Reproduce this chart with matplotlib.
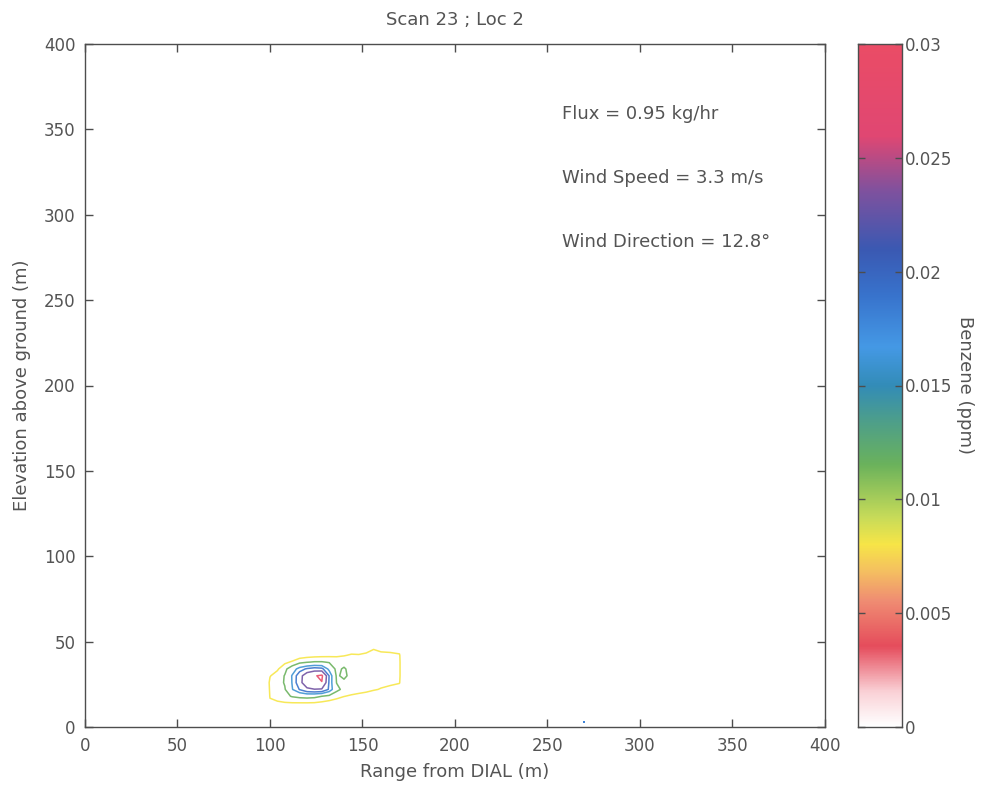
import numpy as np
import matplotlib
matplotlib.use("Agg")
import matplotlib.pyplot as plt
from matplotlib.colors import LinearSegmentedColormap, Normalize

# ---- measured benzene concentration (ppm) on the scan plane ----
range_m = [95, 100, 104, 108, 112, 116, 120, 124, 128, 132, 136, 140,
           144, 148, 152, 156, 160, 165, 170, 175]
elev_m = [10, 14, 18, 22, 26, 30, 34, 38, 42, 46, 50]

conc_y10 = [0, .003, .004, .004, .004, .004, .004, .004, .004, .004, .004, .004,
            .003, .003, .003, .003, .002, .002, .002, 0]
conc_y14 = [0, .0075, .0076, .0077, .0078, .0078, .0078, .0077, .0072, .0066, .006, .0055,
            .005, .0045, .004, .004, .0035, .003, .003, 0]
conc_y18 = [0, .0082, .009, .0105, .0118, .0125, .0128, .0125, .0115, .0105, .0092, .0081,
            .0075, .007, .0065, .006, .0055, .005, .0045, 0]
conc_y22 = [0, .0085, .0097, .0112, .0158, .0192, .022, .0228, .0225, .0185, .0125, .0105,
            .0098, .0094, .009, .0083, .0078, .0072, .0065, 0]
conc_y26 = [0, .0088, .0100, .0118, .0162, .0215, .0262, .0282, .0288, .0185, .0114, .0108,
            .0100, .0096, .0093, .0090, .0088, .0086, .0082, 0]
conc_y30 = [0, .0078, .0095, .0117, .0163, .0212, .0260, .0285, .0300, .0188, .0110, .0122,
            .0105, .0098, .0095, .0092, .0090, .0088, .0085, 0]
conc_y34 = [0, .0055, .0075, .0105, .0140, .0175, .0195, .0205, .0200, .0150, .0105, .0120,
            .0100, .0095, .0093, .0092, .0090, .0088, .0085, 0]
conc_y38 = [0, .003, .005, .0072, .0085, .0105, .0113, .0118, .0118, .0112, .0098, .0100,
            .0092, .0090, .0088, .0090, .0090, .0088, .0085, 0]
conc_y42 = [0, .001, .002, .0035, .005, .006, .0065, .0068, .0070, .0072, .0075, .0078,
            .0083, .0082, .0085, .0092, .0088, .0087, .0083, 0]
conc_y46 = [0, 0, .001, .002, .003, .0035, .004, .0045, .005, .005, .0055, .006,
            .0065, .0065, .0070, .0078, .0072, .0070, .0068, 0]
conc_y50 = [0] * 20

contour_levels = [0.008, 0.0115, 0.016, 0.019, 0.023, 0.029]

# isolated single-cell reading near the ground
stray_range = [270]
stray_elev = [3]
stray_value = [0.018]

title_text = "Scan 23 ; Loc 2"
notes = ["Flux = 0.95 kg/hr", "Wind Speed = 3.3 m/s", "Wind Direction = 12.8\u00b0"]
note_elev = [359, 321.5, 284]
note_range = 258

axis_ticks = [0, 50, 100, 150, 200, 250, 300, 350, 400]
cbar_ticks = [0, 0.005, 0.01, 0.015, 0.02, 0.025, 0.03]
cbar_ticklabels = ["0", "0.005", "0.01", "0.015", "0.02", "0.025", "0.03"]

# ---- colour map of the benzene scale ----
cmap_stops = [
    (0.0000, (1.00, 1.00, 1.00)),
    (0.0015, (0.98, 0.82, 0.84)),
    (0.0035, (0.90, 0.30, 0.36)),
    (0.0055, (0.94, 0.55, 0.45)),
    (0.0068, (0.96, 0.75, 0.38)),
    (0.0080, (0.97, 0.90, 0.28)),
    (0.0092, (0.78, 0.86, 0.35)),
    (0.0115, (0.42, 0.70, 0.36)),
    (0.0135, (0.30, 0.62, 0.55)),
    (0.0150, (0.20, 0.55, 0.72)),
    (0.0167, (0.27, 0.60, 0.90)),
    (0.0190, (0.22, 0.45, 0.80)),
    (0.0210, (0.23, 0.35, 0.70)),
    (0.0236, (0.50, 0.32, 0.62)),
    (0.0260, (0.88, 0.28, 0.45)),
    (0.0300, (0.92, 0.30, 0.40)),
]
vmax = 0.03
benzene_cmap = LinearSegmentedColormap.from_list(
    "benzene", [(v / vmax, c) for v, c in cmap_stops], N=256)
norm = Normalize(vmin=0, vmax=vmax)

text_color = (0.33, 0.33, 0.33)
frame_color = (0.30, 0.30, 0.30)
plt.rcParams["font.family"] = ["DejaVu Sans"]
plt.rcParams["font.size"] = 12

fig = plt.figure(figsize=(9.87, 7.88), dpi=100)
ax = fig.add_axes([85 / 987, 61 / 788, 740 / 987, 683 / 788])
cax = fig.add_axes([858 / 987, 61 / 788, 44 / 987, 683 / 788])

conc = np.array([conc_y10, conc_y14, conc_y18, conc_y22, conc_y26, conc_y30,
                 conc_y34, conc_y38, conc_y42, conc_y46, conc_y50])
ax.contour(range_m, elev_m, conc, levels=contour_levels, cmap=benzene_cmap,
           norm=norm, linewidths=1.1, alpha=0.9)
ax.scatter(stray_range, stray_elev, c=stray_value, cmap=benzene_cmap, norm=norm,
           s=3, marker="s", linewidths=0)

ax.set_xlim(0, 400)
ax.set_ylim(0, 400)
ax.set_xticks(axis_ticks)
ax.set_yticks(axis_ticks)
ax.tick_params(direction="in", length=6, width=1, colors=frame_color,
               labelcolor=text_color, labelsize=12, top=True, right=True, pad=7)
for sp in ax.spines.values():
    sp.set_color(frame_color)
    sp.set_linewidth(1)

ax.set_title(title_text, color=text_color, fontsize=13, pad=14)
ax.set_xlabel("Range from DIAL (m)", color=text_color, fontsize=13, labelpad=6)
ax.set_ylabel("Elevation above ground (m)", color=text_color, fontsize=13, labelpad=9)

for txt, yv in zip(notes, note_elev):
    ax.text(note_range, yv, txt, color=text_color, fontsize=13, ha="left", va="center")

# colour bar
grad = np.linspace(0, vmax, 256).reshape(-1, 1)
cax.imshow(grad, aspect="auto", origin="lower", cmap=benzene_cmap, norm=norm,
           extent=[0, 1, 0, vmax])
cax.set_xlim(0, 1)
cax.set_ylim(0, vmax)
cax.set_xticks([])
cax.yaxis.tick_right()
cax.set_yticks(cbar_ticks)
cax.set_yticklabels(cbar_ticklabels)
cax.tick_params(axis="y", direction="in", length=5, width=1, colors=frame_color,
                labelcolor=text_color, labelsize=12, left=True, right=True, pad=2)
for sp in cax.spines.values():
    sp.set_color(frame_color)
    sp.set_linewidth(1)
cax.yaxis.set_label_position("right")
cax.set_ylabel("Benzene (ppm)", color=text_color, fontsize=13, rotation=-90,
               labelpad=16)

fig.savefig("out.png", dpi=100)
